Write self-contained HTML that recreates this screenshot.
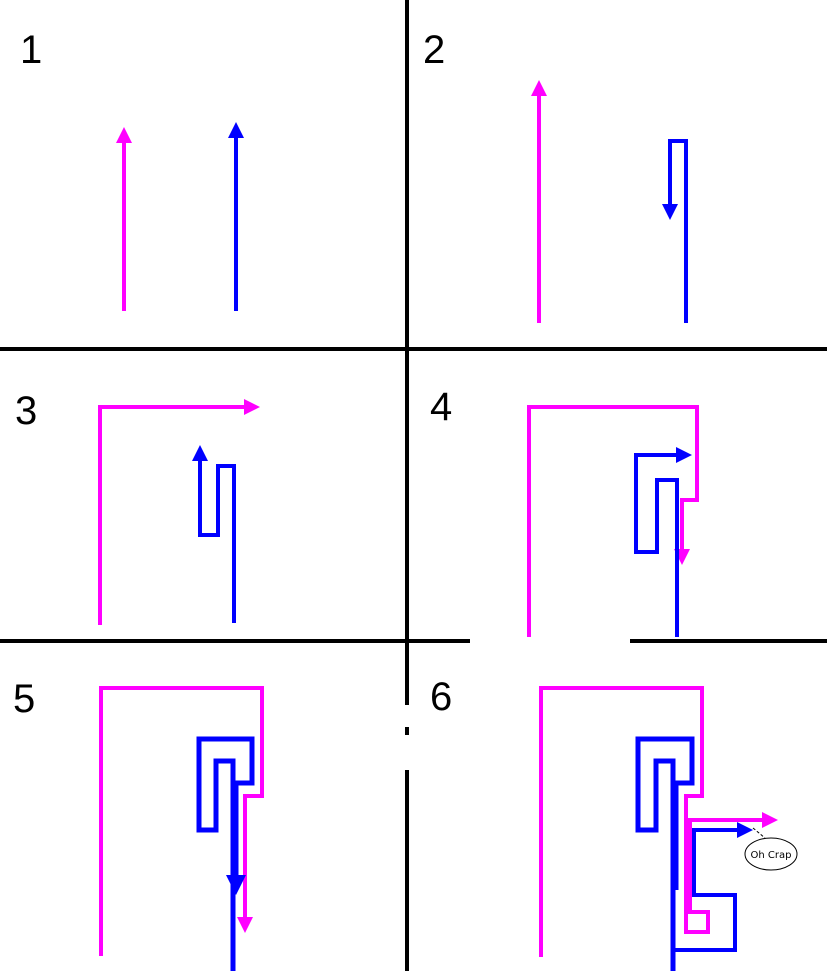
<!DOCTYPE html>
<html><head><style>html,body{margin:0;padding:0;background:#fff;width:827px;height:971px;overflow:hidden}</style></head>
<body>
<svg width="827" height="971" viewBox="0 0 827 971" xmlns="http://www.w3.org/2000/svg">
<defs>
<marker id="m" viewBox="0 0 10 10" refX="5" refY="5" markerWidth="4" markerHeight="4" orient="auto-start-reverse"><path d="M0,0L10,5L0,10z" fill="#ff00ff"/></marker>
<marker id="b" viewBox="0 0 10 10" refX="5" refY="5" markerWidth="4" markerHeight="4" orient="auto-start-reverse"><path d="M0,0L10,5L0,10z" fill="#0000ff"/></marker>
</defs>
<g stroke="#000" stroke-width="4" fill="none">
<line x1="407" y1="0" x2="407" y2="705"/>
<line x1="407" y1="727" x2="407" y2="735"/>
<line x1="407" y1="770" x2="407" y2="971"/>
<line x1="0" y1="349" x2="827" y2="349"/>
<line x1="0" y1="641" x2="470" y2="641"/>
<line x1="630" y1="641" x2="827" y2="641"/>
</g>
<g font-family="Liberation Sans, sans-serif" font-size="40" fill="#000">
<text x="20" y="63">1</text><text x="423" y="63">2</text>
<text x="15" y="424">3</text><text x="430" y="420">4</text>
<text x="13" y="712">5</text><text x="430" y="710">6</text>
</g>
<g fill="none" stroke-width="4" stroke-linejoin="miter">
<!-- panel 1 -->
<path d="M124,311V135" stroke="#ff00ff" marker-end="url(#m)"/>
<path d="M236,311V130" stroke="#0000ff" marker-end="url(#b)"/>
<!-- panel 2 -->
<path d="M539,323V88" stroke="#ff00ff" marker-end="url(#m)"/>
<path d="M686,323V141H670V212" stroke="#0000ff" marker-end="url(#b)"/>
<!-- panel 3 -->
<path d="M100,625V407H252" stroke="#ff00ff" marker-end="url(#m)"/>
<path d="M234,623V466H218V535H200V453" stroke="#0000ff" marker-end="url(#b)"/>
<!-- panel 4 -->
<path d="M529,637V407H697V500H682V557" stroke="#ff00ff" marker-end="url(#m)"/>
<path d="M677,637V480H657V552H636V455H684" stroke="#0000ff" marker-end="url(#b)"/>
<!-- panel 5 -->
<path d="M101,956V688H262V796H245V925" stroke="#ff00ff" marker-end="url(#m)"/>
<path d="M233,971V761H216V830H199V739H252V783H236V885" stroke="#0000ff" stroke-width="5" marker-end="url(#b)"/>
<!-- panel 6 -->
<path d="M541,957V688H702V796H686V932H708V912H690V820H770" stroke="#ff00ff" marker-end="url(#m)"/>
<path d="M673,971V761H656V830H638V739H692V783H676V890" stroke="#0000ff" stroke-width="5"/>
<path d="M675,950H735V895H694V830H745" stroke="#0000ff" marker-end="url(#b)"/>
</g>
<line x1="753" y1="828" x2="765" y2="838" stroke="#000" stroke-width="1" stroke-dasharray="3,2"/>
<ellipse cx="771" cy="854" rx="26" ry="16" fill="#fff" stroke="#000" stroke-width="1"/>
<text x="771" y="858" font-family="DejaVu Sans, sans-serif" font-size="10" text-anchor="middle" fill="#000">Oh Crap</text>
</svg>
</body></html>
